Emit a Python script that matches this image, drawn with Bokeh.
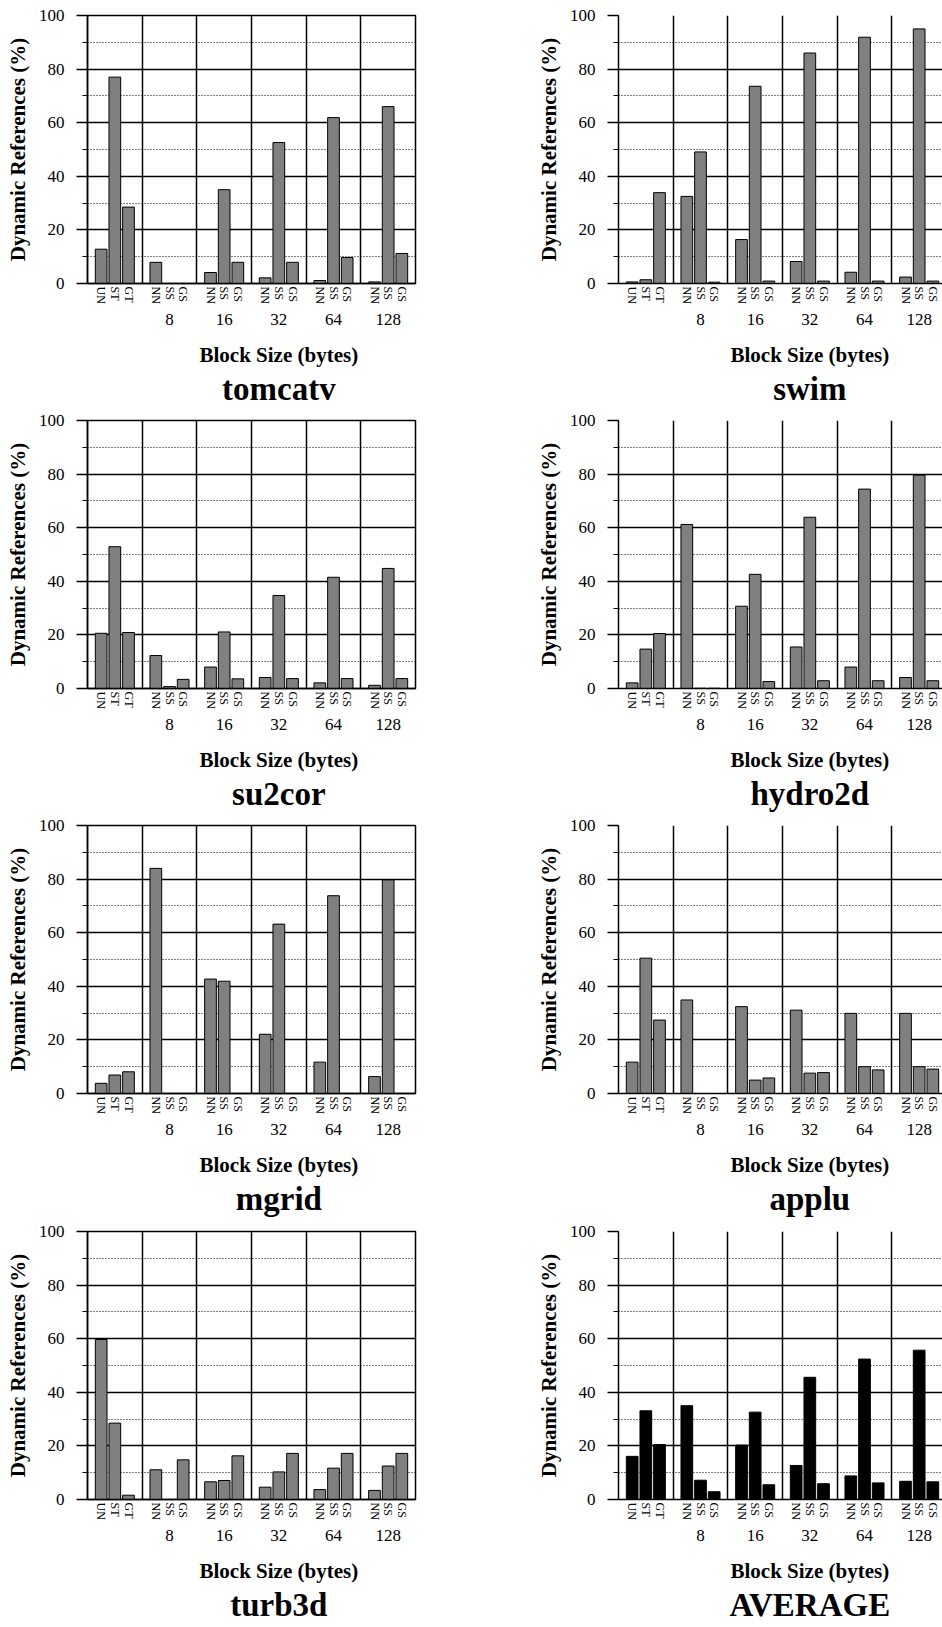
from bokeh.plotting import figure
from bokeh.models import (Range1d, FixedTicker, SingleIntervalTicker, LinearAxis,
                          ColumnDataSource)
from bokeh.layouts import gridplot
from bokeh.embed import file_html
from bokeh.resources import INLINE

# ---------------- data ----------------
groups = ["", "8", "16", "32", "64", "128"]
first_labels = ["UN", "ST", "GT"]
block_labels = ["NN", "SS", "GS"]
x_title = "Block Size (bytes)"
y_title = "Dynamic References (%)"
benchmarks = ["tomcatv", "swim", "su2cor", "hydro2d", "mgrid", "applu", "turb3d", "AVERAGE"]

tomcatv = [12.8, 77.0, 28.5, 7.9, 0.0, 0.0, 4.1, 35.0, 7.9, 2.1, 52.6, 7.9, 1.1, 61.9, 9.7, 0.6, 66.0, 11.2]
swim = [0.6, 1.4, 33.9, 32.5, 49.1, 0.5, 16.4, 73.6, 0.9, 8.2, 86.0, 0.9, 4.2, 91.9, 0.9, 2.4, 95.0, 0.9]
su2cor = [20.6, 52.9, 20.9, 12.3, 0.7, 3.4, 8.0, 21.1, 3.6, 4.1, 34.7, 3.7, 2.1, 41.5, 3.7, 1.2, 44.8, 3.7]
hydro2d = [2.1, 14.7, 20.5, 61.2, 0.1, 0.1, 30.7, 42.6, 2.6, 15.5, 63.9, 2.9, 8.0, 74.4, 2.9, 4.1, 79.6, 2.9]
mgrid = [3.8, 6.9, 8.1, 84.0, 0.0, 0.0, 42.7, 41.9, 0.0, 22.1, 63.2, 0.0, 11.7, 73.8, 0.0, 6.3, 79.7, 0.0]
applu = [11.7, 50.5, 27.4, 34.9, 0.0, 0.0, 32.4, 5.0, 5.8, 31.1, 7.6, 7.8, 29.9, 10.0, 8.8, 29.9, 10.0, 9.1]
turb3d = [59.7, 28.5, 1.6, 11.1, 0.0, 14.8, 6.6, 7.1, 16.3, 4.6, 10.3, 17.2, 3.7, 11.7, 17.2, 3.4, 12.5, 17.2]
average = [16.1, 33.1, 20.5, 35.0, 7.2, 2.9, 20.3, 32.6, 5.5, 12.7, 45.6, 5.9, 8.8, 52.4, 6.2, 6.8, 55.7, 6.6]

series = [tomcatv, swim, su2cor, hydro2d, mgrid, applu, turb3d, average]
bar_colors = ["#808080"] * 7 + ["#000000"]

FONT = "Liberation Serif"
FRAME_H = 268


def text_axis(ticks, overrides, size, bold, standoff):
    return LinearAxis(ticker=FixedTicker(ticks=ticks), major_label_overrides=overrides,
                      axis_line_color=None, major_tick_line_color=None, minor_tick_line_color=None,
                      major_tick_out=0, major_tick_in=0, minor_tick_out=0, minor_tick_in=0,
                      major_label_text_font=FONT, major_label_text_font_size=size,
                      major_label_text_font_style="bold" if bold else "normal",
                      major_label_text_color="black", major_label_standoff=standoff)


def make_panel(name, vals, left_col, color, height, top):
    n = len(groups)
    xs, labels = [], []
    for gi, g in enumerate(groups):
        subs = first_labels if gi == 0 else block_labels
        for k, s in enumerate(subs):
            xs.append(gi + (k + 1) / 4)
            labels.append(s)

    if left_col:
        mbl, mbr, frame_w = 87, 56, 328
        xr = Range1d(0, n)
    else:
        mbl, mbr, frame_w = 147, 0, 324
        xr = Range1d(0, n * 324 / 328)   # right column is cut by the page edge

    p = figure(width=mbl + frame_w + mbr, height=height, x_range=xr, y_range=Range1d(0, 100),
               output_backend="svg", toolbar_location=None,
               min_border_left=mbl, min_border_right=mbr,
               min_border_top=top, min_border_bottom=height - top - FRAME_H)
    p.background_fill_color = "white"
    p.border_fill_color = "white"
    p.outline_line_color = "black" if left_col else None
    p.outline_line_width = 1.5

    src = ColumnDataSource(dict(x=xs, top=vals))
    p.vbar(x="x", top="top", bottom=0, width=0.214, source=src,
           fill_color=color, line_color="black", line_width=1)

    # y axis
    ya = p.yaxis[0]
    ya.ticker = SingleIntervalTicker(interval=20, num_minor_ticks=2)
    ya.axis_label = y_title
    ya.axis_label_text_font = FONT
    ya.axis_label_text_font_style = "bold"
    ya.axis_label_text_font_size = "21px"
    ya.axis_label_text_color = "black"
    ya.axis_label_standoff = 6
    ya.major_label_text_font = FONT
    ya.major_label_text_font_size = "17px"
    ya.major_label_text_color = "black"
    ya.major_label_standoff = 12
    ya.major_tick_out = 11
    ya.major_tick_in = 0
    ya.minor_tick_out = 5
    ya.minor_tick_in = 0
    ya.axis_line_color = "black"
    ya.axis_line_width = 1.5
    ya.major_tick_line_width = 1.5
    ya.major_tick_line_color = "black"
    ya.minor_tick_line_color = "black"

    # x axis: sub-labels
    xa = p.xaxis[0]
    xa.ticker = FixedTicker(ticks=xs)
    xa.major_label_overrides = {x: s for x, s in zip(xs, labels)}
    xa.major_label_orientation = "vertical"
    xa.major_label_text_font = FONT
    xa.major_label_text_font_size = "12px"
    xa.major_label_text_color = "black"
    xa.major_label_standoff = 3
    xa.major_tick_out = 0
    xa.major_tick_in = 0
    xa.minor_tick_out = 0
    xa.minor_tick_in = 0
    xa.major_tick_line_color = None
    xa.minor_tick_line_color = None
    xa.axis_line_color = "black"
    xa.axis_line_width = 1.5

    # x axis: block sizes
    gx = [gi + 0.5 for gi in range(n)]
    p.add_layout(text_axis(gx, {x: g for x, g in zip(gx, groups)}, "17px", False, 7), "below")

    # x title centred under the block-size groups, and the benchmark name
    cx = (1 + n) / 2
    p.add_layout(text_axis([cx], {cx: x_title}, "21px", True, 15), "below")
    p.add_layout(text_axis([cx], {cx: name}, "33px", True, 1), "below")

    # grids
    p.ygrid.grid_line_color = "black"
    p.ygrid.grid_line_width = 1.5
    p.ygrid.minor_grid_line_color = "black"
    p.ygrid.minor_grid_line_dash = "1 2"
    p.ygrid.minor_grid_line_width = 1.2
    p.xgrid.ticker = FixedTicker(ticks=list(range(1, n)))
    p.xgrid.grid_line_color = "black"
    p.xgrid.grid_line_width = 1.5
    return p


heights = [410, 405, 406, 405]
tops = [15, 10, 10, 10]
rows = []
for r in range(4):
    row = []
    for c in range(2):
        i = r * 2 + c
        row.append(make_panel(benchmarks[i], series[i], c == 0, bar_colors[i], heights[r], tops[r]))
    rows.append(row)

grid = gridplot(rows, toolbar_location=None)
open("out.html", "w").write(file_html(grid, INLINE))
